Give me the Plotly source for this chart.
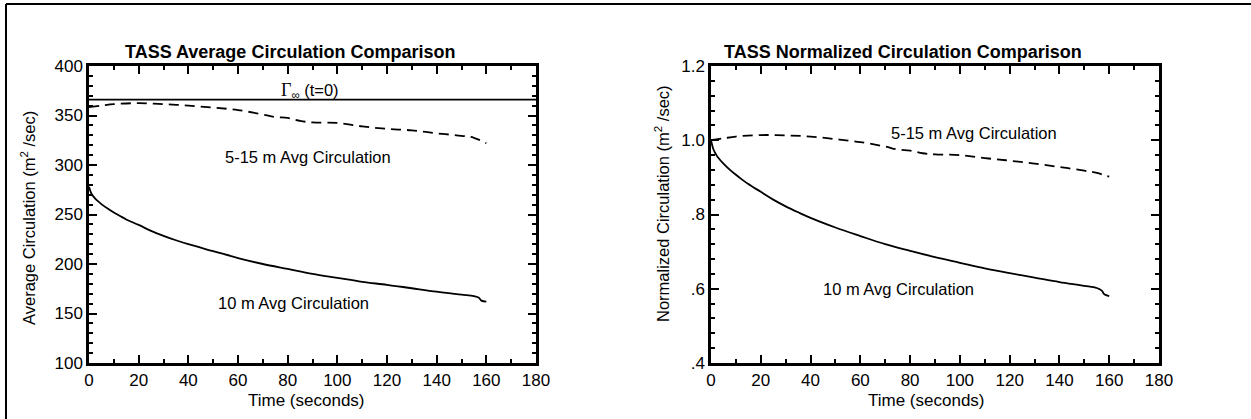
import plotly.graph_objects as go

W, H = 1251, 419

# ---------------- data ----------------
time_10m = [0, 1, 2, 3, 5, 7.5, 10, 12.5, 15, 20, 25, 30, 35, 40, 50, 60, 70, 80, 90, 100, 110, 120, 130, 140, 150, 155, 157, 158, 160]
circ_10m = [278, 271, 267.5, 264.7, 260.5, 256, 252, 248.5, 245, 239.5, 233.5, 228.5, 224, 220, 213, 206, 200, 195, 190, 186, 182, 179, 175.5, 172, 169, 167.5, 166, 163, 162]
norm_10m = [1.0, 0.975, 0.962, 0.952, 0.937, 0.921, 0.907, 0.894, 0.882, 0.861, 0.84, 0.822, 0.806, 0.791, 0.765, 0.742, 0.72, 0.702, 0.685, 0.67, 0.655, 0.642, 0.63, 0.618, 0.608, 0.602, 0.595, 0.585, 0.58]

time_515 = [0, 5, 10, 20, 30, 40, 50, 60, 70, 75, 80, 85, 90, 100, 110, 120, 130, 140, 150, 155, 160]
circ_515 = [358.5, 360, 361.5, 362.5, 361.5, 360, 358, 355.5, 351, 348.5, 347.5, 344.5, 343, 342.5, 339, 336.5, 335, 332, 329.5, 327.5, 322]
norm_515 = [1.0, 1.005, 1.01, 1.014, 1.013, 1.01, 1.003, 0.995, 0.983, 0.975, 0.972, 0.965, 0.962, 0.96, 0.952, 0.945, 0.937, 0.928, 0.918, 0.912, 0.902]

gamma_t0 = 366
time_range = [0, 180]

x_ticks = [0, 20, 40, 60, 80, 100, 120, 140, 160, 180]
y1_ticks = [100, 150, 200, 250, 300, 350, 400]
y2_ticks = [0.4, 0.6, 0.8, 1.0, 1.2]
y2_ticktext = [".4", ".6", ".8", "1.0", "1.2"]

FONT = "Arial, 'Liberation Sans', Helvetica, sans-serif"
BLACK = "#000000"

# ---------------- figure ----------------
fig = go.Figure()

fig.add_trace(go.Scatter(x=time_range, y=[gamma_t0, gamma_t0], mode="lines",
                         line=dict(color=BLACK, width=1.6), xaxis="x", yaxis="y", showlegend=False))
fig.add_trace(go.Scatter(x=time_515, y=circ_515, mode="lines", line_shape="spline",
                         line=dict(color=BLACK, width=1.8, dash="10px,6px"), xaxis="x", yaxis="y", showlegend=False))
fig.add_trace(go.Scatter(x=time_10m, y=circ_10m, mode="lines", line_shape="spline",
                         line=dict(color=BLACK, width=1.8), xaxis="x", yaxis="y", showlegend=False))

fig.add_trace(go.Scatter(x=time_515, y=norm_515, mode="lines", line_shape="spline",
                         line=dict(color=BLACK, width=1.8, dash="10px,6px"), xaxis="x2", yaxis="y2", showlegend=False))
fig.add_trace(go.Scatter(x=time_10m, y=norm_10m, mode="lines", line_shape="spline",
                         line=dict(color=BLACK, width=1.8), xaxis="x2", yaxis="y2", showlegend=False))

def px_x(p):
    return p / W

def px_y(p):
    return 1 - p / H

y_dom = [px_y(363), px_y(66)]

common_axis = dict(
    showline=True, linecolor=BLACK, linewidth=2.5, mirror="ticks",
    ticks="inside", ticklen=8, tickwidth=2, tickcolor=BLACK,
    showgrid=False, zeroline=False, automargin=False,
    tickfont=dict(family=FONT, size=17, color=BLACK),
)
minor = lambda d: dict(dtick=d, ticklen=4, tickwidth=2, ticks="inside", tickcolor=BLACK)

fig.update_layout(
    width=W, height=H,
    margin=dict(l=0, r=0, t=0, b=0),
    paper_bgcolor="white", plot_bgcolor="white",
    template="none",
    showlegend=False,
    font=dict(family=FONT, color=BLACK),
    xaxis=dict(domain=[px_x(89), px_x(536)], range=time_range, tickvals=x_ticks, anchor="y",
               minor=minor(10), **common_axis),
    yaxis=dict(domain=y_dom, range=[100, 400], tickvals=y1_ticks, anchor="x",
               minor=minor(10), **common_axis),
    xaxis2=dict(domain=[px_x(711), px_x(1159)], range=time_range, tickvals=x_ticks, anchor="y2",
                minor=minor(10), **common_axis),
    yaxis2=dict(domain=y_dom, range=[0.4, 1.2], tickvals=y2_ticks, ticktext=y2_ticktext, anchor="x2",
                minor=minor(0.04), **common_axis),
)

ann_font = dict(family=FONT, size=16.5, color=BLACK)
axis_title_font = dict(family=FONT, size=17, color=BLACK)
title_font = dict(family=FONT, size=18, color=BLACK)
annotations = [
    # titles
    dict(text="<b>TASS Average Circulation Comparison</b>", xref="paper", yref="paper",
         x=px_x(289.5), y=px_y(52), xanchor="center", yanchor="middle", showarrow=False,
         font=title_font),
    dict(text="<b>TASS Normalized Circulation Comparison</b>", xref="paper", yref="paper",
         x=px_x(903), y=px_y(52), xanchor="center", yanchor="middle", showarrow=False,
         font=title_font),
    # axis titles
    dict(text="Time (seconds)", xref="paper", yref="paper", x=px_x(306), y=px_y(400),
         xanchor="center", yanchor="middle", showarrow=False, font=axis_title_font),
    dict(text="Time (seconds)", xref="paper", yref="paper", x=px_x(927), y=px_y(400),
         xanchor="center", yanchor="middle", showarrow=False, font=axis_title_font),
    dict(text="Average Circulation (m<sup>2</sup> /sec)", xref="paper", yref="paper",
         x=px_x(28), y=px_y(218), textangle=-90, xanchor="center", yanchor="middle",
         showarrow=False, font=ann_font),
    dict(text="Normalized Circulation (m<sup>2</sup> /sec)", xref="paper", yref="paper",
         x=px_x(662), y=px_y(204), textangle=-90, xanchor="center", yanchor="middle",
         showarrow=False, font=ann_font),
    # curve labels
    dict(text="<span style='font-family:\"Liberation Serif\", \"Times New Roman\", serif; font-size:18px'>Γ</span><sub>∞</sub> (t=0)",
         xref="x", yref="y", x=88.8, y=375, xanchor="center", yanchor="middle",
         showarrow=False, font=ann_font),
    dict(text="5-15 m Avg Circulation", xref="x", yref="y", x=88, y=308,
         xanchor="center", yanchor="middle", showarrow=False, font=ann_font),
    dict(text="10 m Avg Circulation", xref="x", yref="y", x=82.2, y=160.6,
         xanchor="center", yanchor="middle", showarrow=False, font=ann_font),
    dict(text="5-15 m Avg Circulation", xref="x2", yref="y2", x=105.5, y=1.02,
         xanchor="center", yanchor="middle", showarrow=False, font=ann_font),
    dict(text="10 m Avg Circulation", xref="x2", yref="y2", x=75.5, y=0.598,
         xanchor="center", yanchor="middle", showarrow=False, font=ann_font),
]
fig.update_layout(annotations=annotations)

# outer frame (top and left edges visible in the reference)
fig.update_layout(shapes=[
    dict(type="line", xref="paper", yref="paper", x0=px_x(6), x1=1, y0=px_y(4), y1=px_y(4),
         line=dict(color=BLACK, width=2)),
    dict(type="line", xref="paper", yref="paper", x0=px_x(6), x1=px_x(6), y0=px_y(4), y1=0,
         line=dict(color=BLACK, width=2)),
])

fig.write_html("out.html")
